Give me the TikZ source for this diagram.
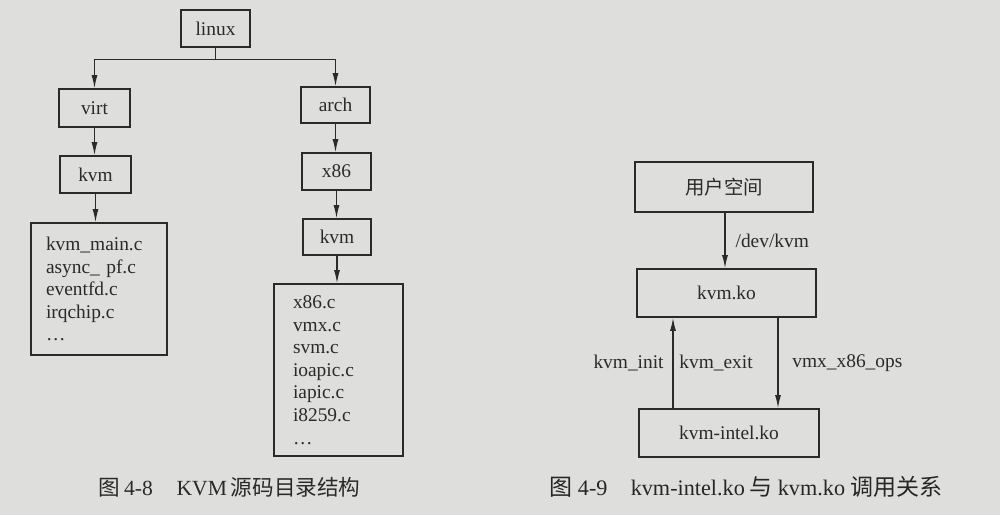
\documentclass[tikz,border=0pt]{standalone}
\usepackage{fontspec}
\setmainfont{Liberation Serif}
\newfontfamily\cjk{Noto Sans CJK SC}
\usetikzlibrary{arrows.meta}
\definecolor{paper}{HTML}{DEDEDC}
\definecolor{ink}{HTML}{2A2A2A}
\tikzset{
  box/.style={draw=ink, line width=0.85pt, fill=paper, inner sep=0pt, text=ink,
    font=\fontsize{9.7}{11.3}\selectfont},
  filebox/.style={box, align=left, inner ysep=0pt},
  arr/.style={draw=ink, line width=0.6pt, -{Latex[length=6.5pt,width=3pt]}},
  plain/.style={draw=ink, line width=0.6pt},
  lbl/.style={text=ink, inner sep=0pt, font=\fontsize{9.7}{11.3}\selectfont},
  captext/.style={text=ink, inner sep=0pt, font=\fontsize{10.8}{13}\selectfont},
  captextb/.style={text=ink!90!black, inner sep=0pt, font=\fontsize{11.1}{13}\selectfont}
}
\begin{document}
\begin{tikzpicture}[x=0.5pt,y=-0.5pt]
\fill[paper] (0,0) rectangle (1000,515);
\useasboundingbox (0,0) rectangle (1000,515);

% ---- Figure 4-8 ----
\node[box, minimum width=34.5pt, minimum height=18.5pt] (linux) at (215.5,28.5) {linux};
\node[box, minimum width=35.5pt, minimum height=19pt] (virt) at (94.5,108) {virt};
\node[box, minimum width=35.5pt, minimum height=18.5pt] (kvmL) at (95.5,174.5) {kvm};
\node[filebox, minimum width=68pt, minimum height=66pt, text width=53pt, inner xsep=7.5pt] (filesL) at (99,289)
  {kvm\_main.c\\async\_ pf.c\\eventfd.c\\irqchip.c\\\ldots};
\node[box, minimum width=34.5pt, minimum height=18pt] (arch) at (335.5,105) {arch};
\node[box, minimum width=34.5pt, minimum height=18.5pt] (x86) at (336.5,171.5) {x86};
\node[box, minimum width=34pt, minimum height=18pt] (kvmR) at (337,237) {kvm};
\node[filebox, minimum width=64.5pt, minimum height=86pt, text width=45.5pt, inner xsep=9.5pt] (filesR) at (338.5,370)
  {x86.c\\vmx.c\\svm.c\\ioapic.c\\iapic.c\\i8259.c\\\ldots};

\coordinate (j) at (215.5,59.5);
\draw[plain] (linux.south) -- (linux.south |- j);
\draw[arr] (linux.south |- j) -| (virt.north);
\draw[arr] (linux.south |- j) -| (arch.north);
\draw[arr] (virt.south) -- (virt.south |- kvmL.north);
\draw[arr] (kvmL.south) -- (kvmL.south |- filesL.north);
\draw[arr] (arch.south) -- (arch.south |- x86.north);
\draw[arr] (x86.south) -- (x86.south |- kvmR.north);
\draw[arr] (kvmR.south) -- (kvmR.south |- filesR.north);

\node[captext] (cap1) at (229.5,487) {{\cjk 图}\hspace{2pt}4-8\hspace{1.1em}KVM\hspace{2pt}{\cjk 源码目录结构}};

% ---- Figure 4-9 ----
\node[box, minimum width=89pt, minimum height=25pt] (user) at (724,187) {\cjk 用户空间};
\node[box, minimum width=89.5pt, minimum height=24pt] (kvmko) at (726.5,293) {kvm.ko};
\node[box, minimum width=90pt, minimum height=24pt] (intel) at (729,433) {kvm-intel.ko};

\coordinate (xa) at (725,0);
\coordinate (xb) at (673,0);
\coordinate (xc) at (778,0);
\draw[arr] (user.south -| xa) -- (kvmko.north -| xa) node[lbl, midway, anchor=west, xshift=5pt] (devkvm) {/dev/kvm};
\draw[arr] (intel.north -| xb) -- (kvmko.south -| xb);
\draw[arr] (kvmko.south -| xc) -- (intel.north -| xc);
\node[lbl, anchor=east] (kinit) at (664,363) {kvm\_init};
\node[lbl, anchor=west] (kexit) at (679,363) {kvm\_exit};
\node[lbl, anchor=west] (vmxops) at (792,363) {vmx\_x86\_ops};

\node[captextb] (cap2) at (746,487) {{\cjk\fontsize{11.5}{13}\selectfont 图}\hspace{2.5pt}4-9\hspace{1.05em}kvm-intel.ko\hspace{2.5pt}{\cjk\fontsize{11.5}{13}\selectfont 与}\hspace{2.5pt}kvm.ko\hspace{2.5pt}{\cjk\fontsize{11.5}{13}\selectfont 调用关系}};
\end{tikzpicture}
\end{document}
